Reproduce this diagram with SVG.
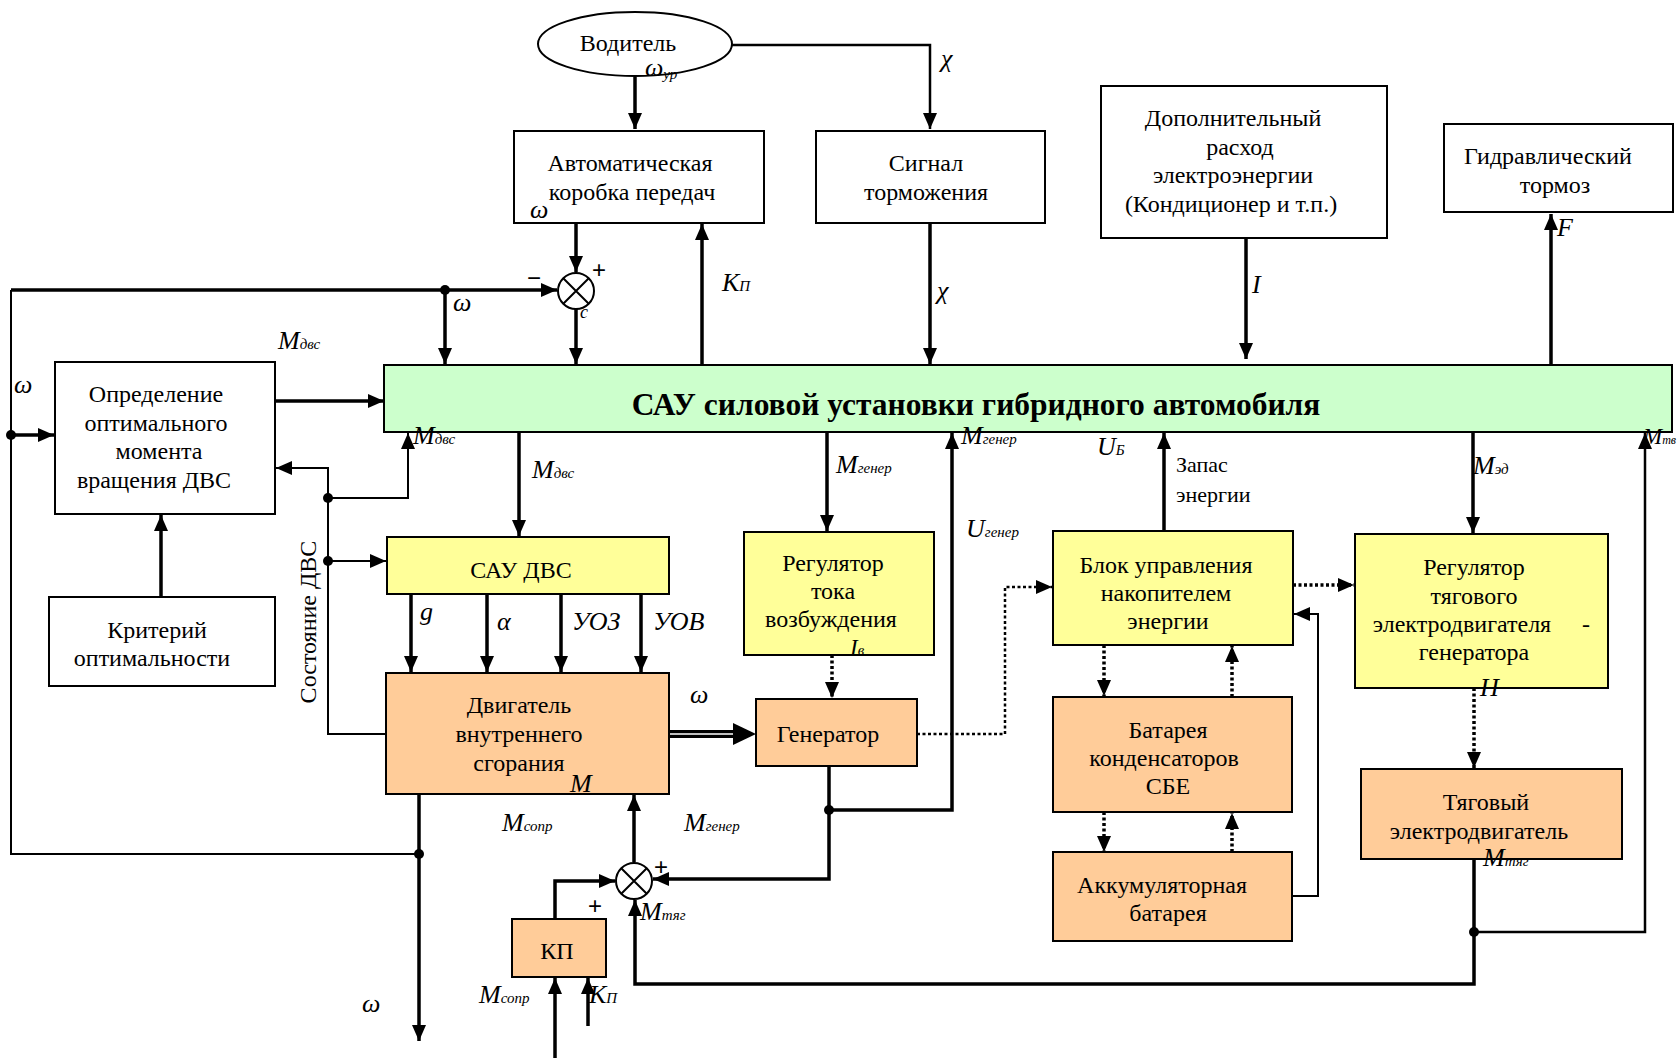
<svg xmlns="http://www.w3.org/2000/svg" width="1680" height="1058" viewBox="0 0 1680 1058">
<style>
.bx{stroke:#000;stroke-width:2}
.w{fill:#fff}.g{fill:#CCFFCC}.y{fill:#FFFF99}.o{fill:#FFCC99}
.t{font-family:'Liberation Serif',serif;font-size:24px;text-anchor:middle;fill:#000}
.l{font-family:'Liberation Serif',serif;font-style:italic;font-size:26px;fill:#000}
.s{font-size:15px}
.c{fill:none;stroke:#000;stroke-width:3.5}
.n{fill:none;stroke:#000;stroke-width:2}
.d{fill:none;stroke:#000;stroke-width:3.5;stroke-dasharray:3 2.5}
.p{font-family:'Liberation Sans',sans-serif;font-size:24px;fill:#000}
</style>
<defs>
<marker id="a" viewBox="0 0 16 14" refX="16" refY="7" markerWidth="16" markerHeight="14" markerUnits="userSpaceOnUse" orient="auto"><path d="M0,0L16,7L0,14z" fill="#000"/></marker>
</defs>
<rect width="1680" height="1058" fill="#fff"/>

<g id="connectors">
<path class="c" d="M635,77V129" marker-end="url(#a)"/>
<path class="c" d="M732,45H930V129" marker-end="url(#a)" style="stroke-width:2.5"/>
<path class="c" d="M576,223V272" marker-end="url(#a)"/>
<path class="c" d="M576,309V364" marker-end="url(#a)"/>
<path class="c" d="M11,290H557" marker-end="url(#a)"/>
<path class="c" d="M445,290V364" marker-end="url(#a)"/>
<path class="c" d="M702,364V224" marker-end="url(#a)"/>
<path class="c" d="M930,223V364" marker-end="url(#a)"/>
<path class="c" d="M1246,238V359" marker-end="url(#a)"/>
<path class="c" d="M1551,364V214" marker-end="url(#a)"/>
<path class="n" d="M11,290V854H419"/>
<path class="c" d="M11,435H54" marker-end="url(#a)"/>
<path class="c" d="M275,401H384" marker-end="url(#a)"/>
<path class="c" d="M161,597V515" marker-end="url(#a)"/>
<path class="n" d="M386,734H328V468H276" marker-end="url(#a)"/>
<path class="n" d="M328,498H408V433" marker-end="url(#a)"/>
<path class="n" d="M328,561H386" marker-end="url(#a)"/>
<path class="c" d="M519,432V536" marker-end="url(#a)"/>
<path class="c" d="M411,594V672" marker-end="url(#a)"/>
<path class="c" d="M487,594V672" marker-end="url(#a)"/>
<path class="c" d="M561,594V672" marker-end="url(#a)"/>
<path class="c" d="M641,594V672" marker-end="url(#a)"/>
<path d="M669,734H740" stroke="#000" stroke-width="8" fill="none"/>
<path d="M669,734H735" stroke="#fff" stroke-width="1.5" fill="none"/>
<path d="M733,723L756,734L733,745z" fill="#000"/>
<path class="c" d="M827,432V531" marker-end="url(#a)"/>
<path class="d" d="M832,655V698" marker-end="url(#a)"/>
<path class="c" d="M829,766V879H653" marker-end="url(#a)"/>
<path class="c" d="M829,810H952V433" marker-end="url(#a)"/>
<path class="c" d="M634,862V795" marker-end="url(#a)"/>
<path class="c" d="M555,919V881H615" marker-end="url(#a)"/>
<path class="c" d="M1474,859V984H635V900" marker-end="url(#a)"/>
<path class="n" d="M1474,932H1645V433" marker-end="url(#a)" style="stroke-width:2.5"/>
<path class="c" d="M419,794V1041" marker-end="url(#a)"/>
<path class="c" d="M555,1058V978" marker-end="url(#a)"/>
<path class="c" d="M588,1026V978" marker-end="url(#a)"/>
<path class="d" d="M917,734H1005V587H1052" marker-end="url(#a)" style="stroke-width:2.5"/>
<path class="c" d="M1164,531V433" marker-end="url(#a)"/>
<path class="d" d="M1293,585H1354" marker-end="url(#a)"/>
<path class="n" d="M1293,896H1318V614H1294" marker-end="url(#a)"/>
<path class="d" d="M1104,645V696" marker-end="url(#a)"/>
<path class="d" d="M1232,697V646" marker-end="url(#a)"/>
<path class="d" d="M1104,812V852" marker-end="url(#a)"/>
<path class="d" d="M1232,852V813" marker-end="url(#a)"/>
<path class="c" d="M1473,432V533" marker-end="url(#a)"/>
<path class="d" d="M1474,688V768" marker-end="url(#a)"/>
<circle cx="445" cy="290" r="5"/>
<circle cx="11" cy="435" r="5"/>
<circle cx="419" cy="854" r="5"/>
<circle cx="328" cy="498" r="5"/>
<circle cx="328" cy="561" r="5"/>
<circle cx="829" cy="810" r="5"/>
<circle cx="1474" cy="932" r="5"/>
</g>

<g id="sum1">
<circle cx="576" cy="291" r="18" fill="#fff" stroke="#000" stroke-width="2"/>
<path d="M563,278L589,304M589,278L563,304" stroke="#000" stroke-width="2"/>
<text class="p" x="527" y="286">−</text>
<text class="p" x="592" y="278">+</text>
<text class="l" x="580" y="318" style="font-size:18px">c</text>
</g>
<g id="sum2">
<circle cx="634" cy="881" r="18" fill="#fff" stroke="#000" stroke-width="2"/>
<path d="M621,868L647,894M647,868L621,894" stroke="#000" stroke-width="2"/>
<text class="p" x="654" y="875">+</text>
<text class="p" x="588" y="914">+</text>
</g>

<g id="driver">
<ellipse cx="635" cy="44" rx="97" ry="32" fill="#fff" stroke="#000" stroke-width="2"/>
<text class="t" x="628" y="51">Водитель</text>
</g>
<g id="akp">
<rect class="bx w" x="514" y="131" width="250" height="92"/>
<text class="t" x="630" y="171">Автоматическая</text>
<text class="t" x="632" y="200">коробка передач</text>
</g>
<g id="signal">
<rect class="bx w" x="816" y="131" width="229" height="92"/>
<text class="t" x="926" y="171">Сигнал</text>
<text class="t" x="926" y="200">торможения</text>
</g>
<g id="dop">
<rect class="bx w" x="1101" y="86" width="286" height="152"/>
<text class="t" x="1233" y="126">Дополнительный</text>
<text class="t" x="1240" y="155">расход</text>
<text class="t" x="1233" y="183">электроэнергии</text>
<text class="t" x="1231" y="212">(Кондиционер и т.п.)</text>
</g>
<g id="hydro">
<rect class="bx w" x="1444" y="124" width="229" height="88"/>
<text class="t" x="1548" y="164">Гидравлический</text>
<text class="t" x="1555" y="193">тормоз</text>
</g>
<g id="sau">
<rect class="bx g" x="384" y="365" width="1288" height="67"/>
<text class="t" x="976" y="415" style="font-size:31.5px;font-weight:bold">САУ силовой установки гибридного автомобиля</text>
</g>
<g id="opt">
<rect class="bx w" x="55" y="362" width="220" height="152"/>
<text class="t" x="156" y="402">Определение</text>
<text class="t" x="156" y="431">оптимального</text>
<text class="t" x="159" y="459">момента</text>
<text class="t" x="154" y="488">вращения ДВС</text>
</g>
<g id="crit">
<rect class="bx w" x="49" y="597" width="226" height="89"/>
<text class="t" x="157" y="638">Критерий</text>
<text class="t" x="152" y="666">оптимальности</text>
</g>
<g id="state">
<text class="t" transform="translate(316,622) rotate(-90)">Состояние ДВС</text>
</g>
<g id="saudvs">
<rect class="bx y" x="387" y="537" width="282" height="57"/>
<text class="t" x="521" y="578">САУ ДВС</text>
</g>
<g id="dvs">
<rect class="bx o" x="386" y="673" width="283" height="121"/>
<text class="t" x="519" y="713">Двигатель</text>
<text class="t" x="519" y="742">внутреннего</text>
<text class="t" x="519" y="771">сгорания</text>
</g>
<g id="regtok">
<rect class="bx y" x="744" y="532" width="190" height="123"/>
<text class="t" x="833" y="571">Регулятор</text>
<text class="t" x="833" y="599">тока</text>
<text class="t" x="831" y="627">возбуждения</text>
</g>
<g id="gen">
<rect class="bx o" x="756" y="699" width="161" height="67"/>
<text class="t" x="828" y="742">Генератор</text>
</g>
<g id="blok">
<rect class="bx y" x="1053" y="531" width="240" height="114"/>
<text class="t" x="1166" y="573">Блок управления</text>
<text class="t" x="1166" y="601">накопителем</text>
<text class="t" x="1168" y="629">энергии</text>
</g>
<g id="sbe">
<rect class="bx o" x="1053" y="697" width="239" height="115"/>
<text class="t" x="1168" y="738">Батарея</text>
<text class="t" x="1164" y="766">конденсаторов</text>
<text class="t" x="1168" y="794">СБЕ</text>
</g>
<g id="akk">
<rect class="bx o" x="1053" y="852" width="239" height="89"/>
<text class="t" x="1162" y="893">Аккумуляторная</text>
<text class="t" x="1168" y="921">батарея</text>
</g>
<g id="regtyag">
<rect class="bx y" x="1355" y="534" width="253" height="154"/>
<text class="t" x="1474" y="575">Регулятор</text>
<text class="t" x="1474" y="604">тягового</text>
<text class="t" x="1462" y="632">электродвигателя</text>
<text class="t" x="1586" y="632">-</text>
<text class="t" x="1474" y="660">генератора</text>
</g>
<g id="tyag">
<rect class="bx o" x="1361" y="769" width="261" height="90"/>
<text class="t" x="1486" y="810">Тяговый</text>
<text class="t" x="1479" y="839">электродвигатель</text>
</g>
<g id="kp">
<rect class="bx o" x="512" y="919" width="94" height="58"/>
<text class="t" x="557" y="959">КП</text>
</g>

<g id="labels">
<text class="l" x="645" y="76">ω<tspan class="s" dy="3">ур</tspan></text>
<text class="l" x="530" y="218">ω</text>
<text class="l" x="941" y="67">χ</text>
<text class="l" x="937" y="299">χ</text>
<text class="l" x="722" y="291">K<tspan class="s">П</tspan></text>
<text class="l" x="453" y="311">ω</text>
<text class="l" x="278" y="349">M<tspan class="s">двс</tspan></text>
<text class="l" x="14" y="393">ω</text>
<text class="l" x="413" y="444">M<tspan class="s">двс</tspan></text>
<text class="l" x="532" y="478">M<tspan class="s">двс</tspan></text>
<text class="l" x="1252" y="293">I</text>
<text class="l" x="1557" y="236">F</text>
<text class="l" x="836" y="473">M<tspan class="s">генер</tspan></text>
<text class="l" x="961" y="444">M<tspan class="s">генер</tspan></text>
<text class="l" x="966" y="537">U<tspan class="s">генер</tspan></text>
<text class="l" x="1097" y="455">U<tspan class="s">Б</tspan></text>
<text class="t" x="1176" y="472" style="text-anchor:start;font-size:22px">Запас</text>
<text class="t" x="1176" y="502" style="text-anchor:start;font-size:22px">энергии</text>
<text class="l" x="1473" y="474">M<tspan class="s">эд</tspan></text>
<text class="l" x="1643" y="444" style="font-size:23px">M<tspan style="font-size:12px">тв</tspan></text>
<text class="l" x="420" y="620">g</text>
<text class="l" x="497" y="630">α</text>
<text class="l" x="572" y="630">УОЗ</text>
<text class="l" x="653" y="630">УОВ</text>
<text class="l" x="690" y="703">ω</text>
<text class="l" x="850" y="655" style="font-size:23px">I<tspan class="s">в</tspan></text>
<text class="l" x="1480" y="696">H</text>
<text class="l" x="570" y="792">M</text>
<text class="l" x="502" y="831">M<tspan class="s">сопр</tspan></text>
<text class="l" x="684" y="831">M<tspan class="s">генер</tspan></text>
<text class="l" x="640" y="920">M<tspan class="s">тяг</tspan></text>
<text class="l" x="1483" y="866">M<tspan class="s">тяг</tspan></text>
<text class="l" x="479" y="1003">M<tspan class="s">сопр</tspan></text>
<text class="l" x="589" y="1003">K<tspan class="s">П</tspan></text>
<text class="l" x="362" y="1012">ω</text>
</g>
</svg>
